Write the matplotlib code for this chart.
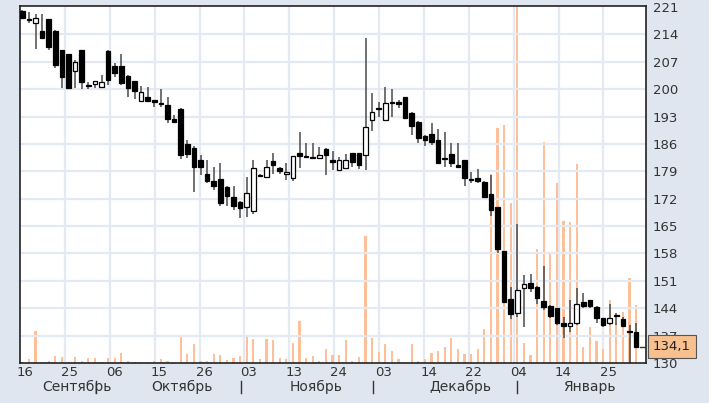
import matplotlib
matplotlib.use("Agg")
from matplotlib import pyplot as plt
from matplotlib.patches import Rectangle

# daily candles, oldest first
opens = [220.0, 217.7, 216.8, 214.9, 217.8, 214.9, 210.0, 208.9, 204.7, 210.0,
         200.8, 201.3, 200.6, 209.8, 206.0, 205.8, 203.4, 202.1, 197.0, 198.1,
         196.8, 196.1, 196.0, 192.3, 195.0, 186.0, 185.0, 181.9, 178.3, 176.4,
         177.1, 175.1, 172.5, 171.2, 169.8, 168.9, 177.8, 177.5, 181.6, 179.9,
         178.3, 177.4, 183.6, 183.0, 182.6, 182.4, 184.6, 181.5, 179.3, 179.8,
         183.7, 183.7, 183.2, 192.0, 194.8, 192.1, 196.4, 196.8, 197.9, 194.0,
         191.7, 188.0, 188.5, 187.0, 182.1, 183.3, 180.2, 181.9, 176.8, 177.2,
         176.3, 173.1, 169.8, 158.6, 146.3, 142.7, 149.1, 150.4, 149.5, 145.8,
         144.6, 144.0, 140.3, 139.5, 140.3, 145.7, 146.1, 144.4, 141.4, 140.3,
         142.0, 141.2, 138.0, 138.0]
highs = [220.3, 219.8, 219.2, 219.2, 217.9, 215.0, 210.1, 209.0, 207.5, 210.1,
         201.9, 202.1, 203.7, 210.0, 206.8, 208.9, 203.5, 202.2, 200.9, 200.6,
         196.9, 200.0, 197.9, 193.4, 195.1, 187.0, 185.5, 183.2, 181.9, 180.2,
         181.0, 175.2, 175.2, 171.3, 177.6, 182.0, 178.3, 182.0, 183.8, 180.0,
         181.0, 182.8, 189.0, 186.2, 186.2, 185.3, 185.0, 184.3, 182.6, 183.4,
         183.8, 183.8, 213.0, 199.1, 196.8, 200.5, 200.0, 197.1, 198.0, 194.1,
         191.8, 188.2, 191.4, 189.8, 189.1, 186.3, 186.3, 182.0, 178.9, 179.5,
         176.4, 178.1, 169.9, 158.7, 149.5, 165.5, 152.5, 152.7, 149.6, 154.9,
         144.7, 144.1, 141.8, 146.1, 149.1, 147.8, 146.2, 144.5, 141.5, 145.1,
         142.9, 141.7, 139.7, 140.1]
lows = [217.9, 216.8, 210.2, 212.7, 209.9, 205.3, 200.2, 200.0, 200.2, 200.0,
        200.0, 200.2, 200.5, 201.1, 203.0, 201.1, 198.1, 197.4, 196.9, 196.8,
        195.4, 195.4, 191.3, 191.4, 182.1, 182.3, 173.8, 178.1, 176.1, 174.2,
        170.1, 170.1, 169.1, 167.0, 167.4, 168.1, 177.6, 177.4, 178.3, 178.3,
        176.8, 176.4, 179.8, 182.3, 182.2, 182.3, 178.1, 179.3, 179.2, 179.6,
        180.2, 179.5, 179.3, 189.4, 193.0, 191.9, 193.0, 195.1, 192.4, 188.4,
        186.2, 185.5, 185.7, 181.0, 180.2, 180.2, 180.0, 175.2, 176.1, 176.1,
        172.1, 167.6, 158.0, 145.3, 141.2, 141.7, 139.3, 148.2, 145.1, 143.5,
        141.4, 139.7, 136.3, 138.0, 139.7, 144.0, 144.1, 140.1, 139.3, 139.7,
        139.7, 139.4, 129.5, 134.2]
closes = [218.1, 217.7, 218.1, 213.0, 210.7, 206.2, 203.2, 200.2, 206.9, 201.9,
          200.8, 202.1, 201.8, 202.3, 204.2, 201.5, 200.2, 199.4, 199.2, 197.0,
          196.8, 196.1, 192.4, 191.5, 183.2, 183.3, 180.2, 180.2, 176.6, 175.2,
          171.0, 172.8, 170.1, 169.5, 173.4, 179.8, 177.8, 180.2, 180.6, 179.2,
          178.9, 182.8, 183.0, 182.6, 182.3, 183.1, 183.1, 181.5, 181.9, 181.9,
          181.5, 180.6, 190.4, 194.2, 194.8, 196.5, 196.4, 196.2, 192.5, 190.6,
          187.4, 187.0, 186.6, 181.2, 182.1, 181.0, 180.2, 177.2, 176.8, 176.4,
          172.5, 169.1, 159.1, 145.7, 142.5, 148.7, 150.1, 149.1, 146.5, 144.4,
          142.0, 140.1, 139.5, 140.1, 145.1, 144.6, 144.6, 141.4, 139.7, 141.6,
          142.0, 139.5, 138.0, 134.1]
volumes = [1, 4, 32, 1.3, 2.3, 6.7, 5.7, 1, 5.7, 2.3,
           5.3, 5.3, 1, 5.3, 5.3, 10, 2.3, 1, 1, 1,
           2.3, 4.3, 2.3, 1, 25.7, 9, 19, 2.3, 2.3, 9,
           8, 3.3, 5.3, 6.5, 25.5, 24, 4.2, 24.3, 23, 5.3,
           4.2, 20, 41.5, 5.3, 6.5, 2, 14.3, 8, 7.7, 23,
           1.7, 6.3, 126.3, 25.3, 11, 18.7, 12, 4, 1, 18.7,
           2, 4.2, 9.7, 12, 16.3, 25.3, 13.5, 8.8, 8.5, 14.2,
           33.8, 188.7, 234.7, 237, 159.3, 354.7, 20, 8, 113.7, 220.3,
           110, 179.2, 141.8, 140.3, 198.7, 16, 36, 22, 14, 63,
           40, 51, 85, 58]

day_labels = ["16", "25", "06", "15", "26", "03", "13", "24", "03", "14", "22", "04", "14", "25"]
months = ["Сентябрь", "Октябрь", "Ноябрь", "Декабрь", "Январь"]
month_pos = [8.3, 24.2, 44.5, 66.3, 85.9]
month_starts = [11.2, 33.1, 53.1, 75.0]
price_ticks = [130, 137, 144, 151, 158, 165, 172, 179, 186, 193, 200, 207, 214, 221]

bg = "#dfe6ef"
gridc = "#e4eaf3"
volc = "#ffbf98"

fig = plt.figure(figsize=(7.09, 4.03), dpi=100, facecolor=bg)
W, H = 709.0, 403.0
ax = fig.add_axes([20 / W, (H - 363) / H, 626 / W, 357 / H])

x0, step = -0.35, 6.8
ax.set_xlim(x0, 94.5)
ax.set_ylim(130, 221.25)

# volume on a hidden twin axis, drawn underneath
vax = ax.twinx()
vax.set_ylim(0, 356)
ax.set_zorder(vax.get_zorder() + 1)
ax.patch.set_visible(False)
vax.patch.set_facecolor("white")
vax.patch.set_visible(True)
n = len(closes)
vax.bar(range(n), volumes, width=0.32, color=volc, linewidth=0)
vax.set_yticks([])
for s in vax.spines.values():
    s.set_visible(False)

# grid
grid_x = [x0 + k * step for k in range(1, 14)]
for gx in grid_x:
    vax.axvline(gx, color=gridc, lw=1.6, zorder=0)
for p in price_ticks[1:-1]:
    ax.axhline(p, color=gridc, lw=1.6, zorder=0)

# candles
bw = 0.7
for i in range(n):
    o, h, l, c = opens[i], highs[i], lows[i], closes[i]
    ax.vlines(i, l, h, color="#4a4a4a", lw=1.1, zorder=2)
    lo = min(o, c)
    ht = max(abs(c - o), 0.3)
    up = c > o
    ax.add_patch(Rectangle((i - bw / 2, lo), bw, ht,
                           facecolor="white" if up else "black",
                           edgecolor="black", lw=0.9, zorder=3))

for s in ax.spines.values():
    s.set_color("#222222")
    s.set_linewidth(1.2)

ax.yaxis.tick_right()
ax.set_yticks(price_ticks)
ax.set_yticklabels([str(p) for p in price_ticks])
ax.tick_params(axis="y", length=0, pad=5, labelsize=9.5, labelcolor="#333333")

ax.set_xticks([gx + 0.7 for gx in [x0] + grid_x])
ax.set_xticklabels(day_labels)
ax.tick_params(axis="x", length=0, pad=2, labelsize=9.5, labelcolor="#333333")

for m, mp in zip(months, month_pos):
    ax.text(mp, -0.068, m, transform=ax.get_xaxis_transform(), ha="center", va="center",
            fontsize=10, color="#333333")
for ms in month_starts:
    ax.plot([ms, ms], [-0.05, -0.085], transform=ax.get_xaxis_transform(),
            color="#333333", lw=1, clip_on=False)

# last price marker
last = closes[-1]
ax.plot([93.6, 94.3], [last, last], color="#333333", lw=1, zorder=4)
ax.annotate("{:.1f}".format(last).replace(".", ","), xy=(1.0, last),
            xycoords=("axes fraction", "data"),
            xytext=(5, 0), textcoords="offset points", ha="left", va="center",
            fontsize=9.5, color="#222222", zorder=10,
            bbox=dict(boxstyle="square,pad=0.38", fc="#f8c08f", ec="#555555", lw=0.8))

fig.savefig("out.png", dpi=100, facecolor=bg)
